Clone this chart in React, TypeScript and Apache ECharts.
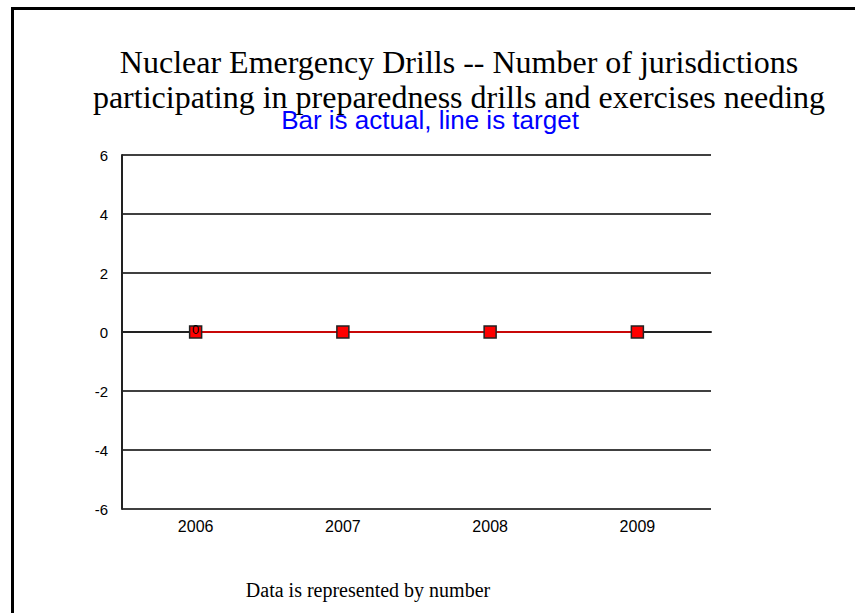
import React, { useEffect, useRef } from "react";
import * as echarts from "echarts";

const titleLines = [
  "Nuclear Emergency Drills -- Number of jurisdictions",
  "participating in preparedness drills and exercises needing",
];
const subtitle = "Bar is actual, line is target";
const footer = "Data is represented by number";
const years = ["2006", "2007", "2008", "2009"];
const actual: (number | null)[] = [0, null, null, null];
const target = [0, 0, 0, 0];
const yMin = -6;
const yMax = 6;
const yStep = 2;

export default function App() {
  const ref = useRef<HTMLDivElement>(null);
  useEffect(() => {
    if (!ref.current) return;
    const chart = echarts.init(ref.current, null, { renderer: "svg" });
    chart.setOption({
      animation: false,
      backgroundColor: "#fff",
      grid: { left: 122, top: 155, width: 589, height: 354 },
      xAxis: {
        type: "category",
        data: years,
        boundaryGap: true,
        axisLine: { show: true, lineStyle: { color: "#222", width: 2 } },
        axisTick: { show: false },
        axisLabel: {
          color: "#000",
          fontFamily: "Liberation Sans, Arial, sans-serif",
          fontSize: 16,
          margin: 9,
        },
      },
      yAxis: {
        type: "value",
        min: yMin,
        max: yMax,
        interval: yStep,
        axisLine: { show: true, lineStyle: { color: "#222", width: 2 } },
        axisTick: { show: false },
        splitLine: { show: true, lineStyle: { color: "#000", width: 1.5 } },
        axisLabel: {
          color: "#000",
          fontFamily: "Liberation Sans, Arial, sans-serif",
          fontSize: 15,
          margin: 14,
        },
      },
      series: [
        {
          type: "line",
          data: target,
          symbol: "rect",
          symbolSize: 12,
          lineStyle: { color: "#ff0000", width: 1.5 },
          itemStyle: { color: "#ff0000", borderColor: "#222", borderWidth: 1.5 },
          z: 3,
        },
        {
          type: "bar",
          data: actual,
          barWidth: 8,
          itemStyle: { color: "#0000ff" },
          label: {
            show: true,
            position: "top",
            distance: -4,
            color: "#000",
            fontSize: 13,
            fontFamily: "Liberation Sans, Arial, sans-serif",
          },
          z: 4,
        },
      ],
      graphic: [
        {
          type: "polyline",
          shape: { points: [[12.5, 613], [12.5, 8.5], [855, 8.5]] },
          style: { stroke: "#000", lineWidth: 3, fill: "none" },
        },
        ...titleLines.map((t, i) => ({
          type: "text",
          x: 459,
          y: 78 + i * 35,
          style: {
            text: t,
            fill: "#000",
            font: "32px 'Liberation Serif', 'Times New Roman', serif",
            textAlign: "center",
            textVerticalAlign: "bottom",
          },
        })),
        {
          type: "text",
          x: 430,
          y: 120,
          style: {
            text: subtitle,
            fill: "#0000ff",
            font: "26px 'Liberation Sans', Arial, sans-serif",
            textAlign: "center",
            textVerticalAlign: "middle",
          },
        },
        {
          type: "text",
          x: 368,
          y: 590,
          style: {
            text: footer,
            fill: "#000",
            font: "20px 'Liberation Serif', 'Times New Roman', serif",
            textAlign: "center",
            textVerticalAlign: "middle",
          },
        },
      ],
    });
    return () => chart.dispose();
  }, []);
  return (
    <div
      ref={ref}
      style={{ position: "fixed", left: 0, top: 0, width: 855, height: 613 }}
    />
  );
}
